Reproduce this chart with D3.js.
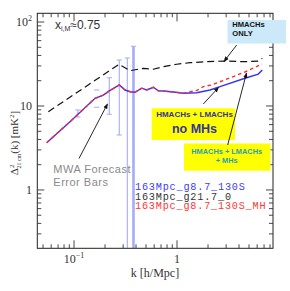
<!DOCTYPE html>
<html><head><meta charset="utf-8">
<script src="https://cdn.jsdelivr.net/npm/d3@7"></script>
<style>html,body{margin:0;padding:0;background:#fff;}svg{display:block;}</style>
</head><body>
<svg id="c" width="290" height="291"></svg>
<script>
// ---- data ----
const kBlue = [0.0543,0.0914,0.160,0.1925,0.2203,0.2754,0.313,0.350,0.391,0.454,0.508,0.589,0.658,0.736,0.921,1.151,1.553,2.09,2.615,4.57,6.15,6.73];
const vBlue = [3.66,6.50,12.35,13.5,15.1,17.8,15.5,14.8,14.55,16.3,15.5,16.7,15.2,15.1,14.7,14.2,14.4,15.5,17.0,21.4,24.0,26.8];
const kRed  = [0.0543,0.0914,0.160,0.1925,0.2203,0.2754,0.313,0.350,0.391,0.454,0.508,0.589,0.658,0.736,0.921,1.151,1.553,1.80,2.17,2.80,3.42,4.57,6.69];
const vRed  = [3.66,6.50,12.35,13.5,15.1,17.8,15.5,14.8,14.55,16.3,15.5,16.7,15.2,15.1,14.7,14.2,15.3,17.0,17.8,20.1,22.1,25.4,31.6];
const kBlack = [0.0563,0.2735,0.350,0.471,0.589,0.736,0.993,1.337,1.94,2.80,4.57,6.1,6.73];
const vBlack = [8.55,31.4,26.3,28.1,27.4,29.4,31.4,32.8,33.7,34.3,33.7,34.3,37.0];
const errK  = [0.109,0.166,0.220,0.275,0.329,0.378];
const errLo = [7.4,9.65,7.96,4.52,0.1,0.1];
const errHi = [8.96,15.5,21.7,35.3,37.3,51.4];
const errStem = [true,false,true,true,true,true];
const errWide = [false,false,false,false,false,true];
const legendNames = ["163Mpc_g8.7_130S","163Mpc_g21.7_0","163Mpc_g8.7_130S_MH"];
const legendColors = ["#3b3bff","#333333","#ff3535"];
const yTickVals = [1,10,100];
const yTickText = ["1","10","10²"];
const xTickVals = [0.1,1];

// ---- layout ----
const L=37.3, R=273, T=13.3, B=248.3;
const svg=d3.select("#c");
const x=d3.scaleLog().domain([0.044,8.55]).range([L,R]);
const y=d3.scaleLog().domain([0.202,127]).range([B,T]);

const defs=svg.append("defs");
defs.append("clipPath").attr("id","pc").append("rect")
  .attr("x",L).attr("y",T).attr("width",R-L).attr("height",B-T);
defs.append("marker").attr("id","ah").attr("viewBox","0 0 10 10").attr("refX",9).attr("refY",5)
  .attr("markerWidth",6).attr("markerHeight",6).attr("orient","auto")
  .append("path").attr("d","M0,1 L10,5 L0,9 z").attr("fill","#111");

const g=svg.append("g").attr("clip-path","url(#pc)");

// error bars
const eb=g.append("g").attr("stroke","#a6acf5");
errK.forEach((k,i)=>{
  const w=errWide[i]?2.6:1.1;
  if(errStem[i]) eb.append("line").attr("x1",x(k)).attr("x2",x(k)).attr("y1",y(errLo[i])).attr("y2",y(errHi[i])).attr("stroke-width",w);
  [errLo[i],errHi[i]].forEach(v=>{
    eb.append("line").attr("x1",x(k)-2.6).attr("x2",x(k)+2.6).attr("y1",y(v)).attr("y2",y(v)).attr("stroke-width",1.1);
  });
});

const line=d3.line().x(d=>x(d[0])).y(d=>y(d[1]));
g.append("path").datum(d3.zip(kBlack,vBlack)).attr("d",line).attr("fill","none")
  .attr("stroke","#111").attr("stroke-width",1.2).attr("stroke-dasharray","7,4");
g.append("path").datum(d3.zip(kBlue,vBlue)).attr("d",line).attr("fill","none")
  .attr("stroke","#3333ff").attr("stroke-width",1.4);
g.append("path").datum(d3.zip(kRed,vRed)).attr("d",line).attr("fill","none")
  .attr("stroke","#ff2a2a").attr("stroke-width",1.4).attr("stroke-dasharray","3.5,3");

// legend text (clipped at frame)
legendNames.forEach((n,i)=>{
  g.append("text").attr("x",135).attr("y",190+i*9.6).attr("fill",legendColors[i])
   .attr("font-family","Liberation Mono, monospace").attr("font-size",10.2).attr("letter-spacing",0.8).text(n);
});

// frame
svg.append("rect").attr("x",L).attr("y",T).attr("width",R-L).attr("height",B-T)
  .attr("fill","none").attr("stroke","#222").attr("stroke-width",1);

// ticks
const ax=svg.append("g").attr("stroke","#333").attr("stroke-width",0.9);
function yTicks(){
  const out=[];
  for(let e=-1;e<=2;e++) for(let m=1;m<=9;m++){const v=m*Math.pow(10,e); if(v>=0.202&&v<=127) out.push([v,m===1]);}
  return out;
}
function xTicks(){
  const out=[];
  for(let e=-2;e<=0;e++) for(let m=1;m<=9;m++){const v=m*Math.pow(10,e); if(v>=0.044&&v<=8.55) out.push([v,m===1]);}
  return out;
}
yTicks().forEach(([v,maj])=>{
  const len=maj?7:4, yy=y(v);
  ax.append("line").attr("x1",L).attr("x2",L+len).attr("y1",yy).attr("y2",yy);
  ax.append("line").attr("x1",R).attr("x2",R-len).attr("y1",yy).attr("y2",yy);
});
xTicks().forEach(([v,maj])=>{
  const len=maj?8:4, xx=x(v);
  ax.append("line").attr("x1",xx).attr("x2",xx).attr("y1",B).attr("y2",B-len);
  ax.append("line").attr("x1",xx).attr("x2",xx).attr("y1",T).attr("y2",T+len);
});

// tick labels
const lab=svg.append("g").attr("font-family","Liberation Serif, serif").attr("fill","#333").attr("font-size",12);
yTickVals.forEach((v,i)=>{
  const t=lab.append("text").attr("x",32).attr("y",y(v)+4).attr("text-anchor","end");
  if(yTickText[i]==="10²"){t.text("10");t.append("tspan").attr("dy",-5).attr("font-size",8).text("2");}
  else t.text(yTickText[i]);
});
xTickVals.forEach(v=>{
  const t=lab.append("text").attr("x",x(v)).attr("y",263).attr("text-anchor","middle");
  if(v===0.1){t.text("10");t.append("tspan").attr("dy",-5).attr("font-size",8).text("−1");}
  else t.text("1");
});
lab.append("text").attr("x",155).attr("y",277).attr("text-anchor","middle").text("k [h/Mpc]");
const yl=lab.append("text").attr("transform","translate(18,143) rotate(-90)").attr("text-anchor","middle").attr("font-size",11);
yl.append("tspan").text("Δ");
yl.append("tspan").attr("font-size",7).attr("dy",-4).text("2");
yl.append("tspan").attr("font-size",6).attr("dx",-4).attr("dy",7).text("21 cm");
yl.append("tspan").attr("dy",-3).text("(k) [mK");
yl.append("tspan").attr("font-size",7).attr("dy",-4).text("2");
yl.append("tspan").attr("dy",4).text("]");

// x_{i,M} annotation
const xi=svg.append("text").attr("x",55).attr("y",28.5).attr("font-family","Liberation Sans, sans-serif").attr("font-size",12).attr("fill","#333");
xi.append("tspan").text("x");
xi.append("tspan").attr("font-size",7).attr("dy",2.5).text("i,M");
xi.append("tspan").attr("dy",-2.5).text("≈0.75");

// MWA label
const mwa=svg.append("g").attr("font-family","Liberation Sans, sans-serif").attr("font-size",11).attr("fill","#8a8a8a").attr("letter-spacing",0.5);
mwa.append("text").attr("x",53.3).attr("y",172.7).text("MWA Forecast");
mwa.append("text").attr("x",53.3).attr("y",185.7).text("Error Bars");

// boxes
svg.append("rect").attr("x",227.5).attr("y",20).attr("width",58.5).attr("height",23.5).attr("fill","#cbe9f8");
const b1=svg.append("g").attr("font-family","Liberation Sans, sans-serif").attr("font-weight","bold").attr("font-size",7.6).attr("fill","#111");
b1.append("text").attr("x",232.3).attr("y",26.8).text("HMACHs");
b1.append("text").attr("x",232.3).attr("y",35.6).text("ONLY");

svg.append("rect").attr("x",151.7).attr("y",108.3).attr("width",83.3).attr("height",31.7).attr("fill","#ffff00");
const b2=svg.append("g").attr("font-family","Liberation Sans, sans-serif").attr("font-weight","bold").attr("fill","#34349c").attr("text-anchor","middle");
b2.append("text").attr("x",194.5).attr("y",117.3).attr("font-size",8).text("HMACHs + LMACHs");
b2.append("text").attr("x",194.5).attr("y",133.3).attr("font-size",12.5).text("no MHs");

svg.append("rect").attr("x",184).attr("y",143.5).attr("width",86.5).attr("height",27.2).attr("fill","#ffff00");
const b3=svg.append("g").attr("font-family","Liberation Sans, sans-serif").attr("font-weight","bold").attr("fill","#2a9fb3").attr("text-anchor","middle").attr("font-size",7.4);
b3.append("text").attr("x",226.7).attr("y",154).text("HMACHs + LMACHs");
b3.append("text").attr("x",226.7).attr("y",162.5).text("+ MHs");

// arrows: start in pixels (from labels), tips in data coordinates
const arrows=[
  {x0:236.7,y0:45,k:2.86,v:33.9},
  {x0:203.3,y0:104,k:2.53,v:16.6},
  {x0:227.7,y0:145,k:4.73,v:24.7},
  {x0:79,y0:158.5,k:0.2115,v:10.6}
];
arrows.forEach(a=>{
  svg.append("line").attr("x1",a.x0).attr("y1",a.y0).attr("x2",x(a.k)).attr("y2",y(a.v))
    .attr("stroke","#111").attr("stroke-width",0.9).attr("marker-end","url(#ah)");
});
</script>
</body></html>
